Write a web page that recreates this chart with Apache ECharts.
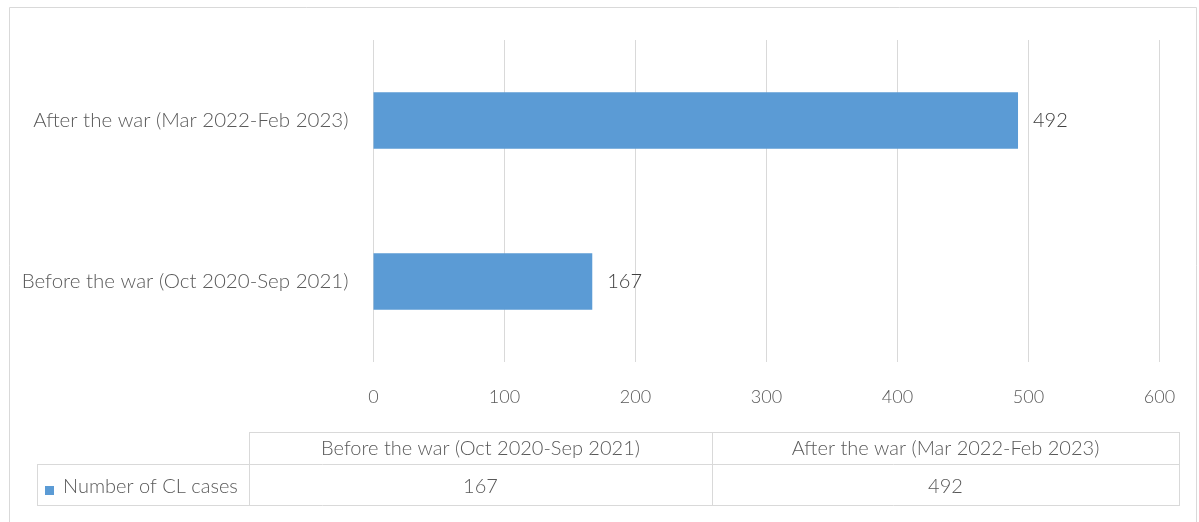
<!DOCTYPE html>
<html>
<head>
<meta charset="utf-8">
<script src="https://cdn.jsdelivr.net/npm/echarts@6/dist/echarts.min.js"></script>
<style>
  html, body { margin: 0; padding: 0; background: #ffffff; }
  #chart { width: 1199px; height: 522px; }
</style>
</head>
<body>
<div id="chart"></div>
<script>
// ---- data ----
const categories = ['Before the war (Oct 2020-Sep 2021)', 'After the war (Mar 2022-Feb 2023)'];
const seriesName = 'Number of CL cases';
const caseCounts = [167, 492];
const xTicks = [0, 100, 200, 300, 400, 500, 600];

// ---- styles / layout ----
const FONT = 'Lato';
const TXT = '#595959';
const GRID_C = '#d9d9d9';
const BAR_C = '#5b9bd5';
const TABLE_C = '#d9d9d9';
const TFONT = '300 20px ' + FONT;

const chart = echarts.init(document.getElementById('chart'), null, { renderer: 'canvas' });

// table layout
const tTop = 432, tMid = 464, tBot = 505;
const legLeft = 37, col1Left = 249, col2Left = 712, tRight = 1179;
const colLefts = [col1Left, col2Left];
const colRights = [col2Left, tRight];

const graphics = [];
// outer chart border
graphics.push({ type: 'rect', shape: { x: 9.5, y: 7.5, width: 1187, height: 530 },
  style: { fill: null, stroke: '#d9d9d9', lineWidth: 1 }, silent: true });
function hline(x1, x2, y) {
  graphics.push({ type: 'line', shape: { x1: x1, y1: y + 0.5, x2: x2, y2: y + 0.5 },
    style: { stroke: TABLE_C, lineWidth: 1 }, silent: true });
}
function vline(x, y1, y2) {
  graphics.push({ type: 'line', shape: { x1: x + 0.5, y1: y1, x2: x + 0.5, y2: y2 },
    style: { stroke: TABLE_C, lineWidth: 1 }, silent: true });
}
hline(col1Left, tRight, tTop);
hline(legLeft, tRight, tMid);
hline(legLeft, tRight, tBot);
vline(col1Left, tTop, tBot + 1);
vline(col2Left, tTop, tBot + 1);
vline(tRight, tTop, tBot + 1);
vline(legLeft, tMid, tBot + 1);

categories.forEach(function (c, i) {
  graphics.push({ type: 'text', silent: true,
    style: { text: c, x: (colLefts[i] + colRights[i]) / 2, y: (tTop + tMid) / 2 + 1,
      align: 'center', verticalAlign: 'middle', fill: TXT, font: TFONT } });
  graphics.push({ type: 'text', silent: true,
    style: { text: String(caseCounts[i]), x: (colLefts[i] + colRights[i]) / 2, y: (tMid + tBot) / 2 + 2,
      align: 'center', verticalAlign: 'middle', fill: TXT, font: TFONT } });
});
// legend key
graphics.push({ type: 'rect', silent: true, shape: { x: 45, y: 486, width: 9, height: 9 },
  style: { fill: BAR_C } });
graphics.push({ type: 'text', silent: true,
  style: { text: seriesName, x: 63, y: (tMid + tBot) / 2 + 2, align: 'left', verticalAlign: 'middle',
    fill: TXT, font: TFONT } });

chart.setOption({
  animation: false,
  backgroundColor: '#ffffff',
  textStyle: { fontFamily: FONT },
  grid: { left: 373.5, right: 39.5, top: 40, bottom: 160, containLabel: false },
  xAxis: {
    type: 'value', min: xTicks[0], max: xTicks[xTicks.length - 1], interval: xTicks[1] - xTicks[0],
    axisLine: { show: false }, axisTick: { show: false },
    splitLine: { lineStyle: { color: GRID_C, width: 1 } },
    axisLabel: { color: TXT, fontSize: 18, fontWeight: 300, margin: 26, fontFamily: FONT }
  },
  yAxis: {
    type: 'category', data: categories,
    axisLine: { show: false }, axisTick: { show: false },
    axisLabel: { color: TXT, fontSize: 20.5, fontWeight: 300, margin: 25, fontFamily: FONT }
  },
  series: [{
    name: seriesName, type: 'bar', data: caseCounts, barWidth: '35%',
    itemStyle: { color: BAR_C },
    label: { show: true, position: 'right', distance: 15, color: '#404040', fontSize: 20, fontWeight: 300, fontFamily: FONT }
  }],
  graphic: graphics
});
</script>
</body>
</html>
